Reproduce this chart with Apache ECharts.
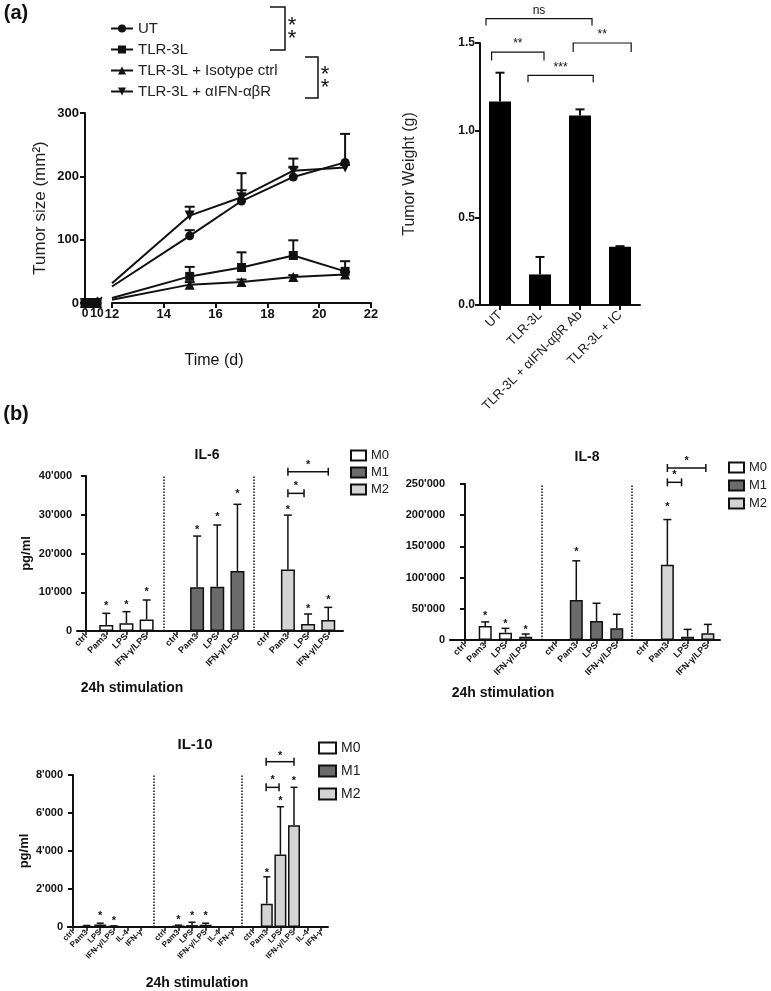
<!DOCTYPE html>
<html>
<head>
<meta charset="utf-8">
<script src="https://cdn.jsdelivr.net/npm/echarts@6/dist/echarts.min.js"></script>
<style>
  html, body { margin: 0; background: #fff; }
  #chart { width: 771px; height: 991px; }
</style>
</head>
<body>
<div id="chart"></div>
<script>
// ---- (a) tumour growth, broken x axis ----
const earlyDays = [0, 5, 10];
const earlyZero = [0, 0, 0];
const days = [12, 15, 17, 19, 21];
const utSize = [26, 106, 161, 199, 222];
const utTop = [26, 115, 178, 214, 267];
const tlrSize = [8, 42, 56, 75, 50];
const tlrTop = [8, 57, 80, 99, 66];
const isoSize = [5, 29, 33, 41, 45];
const isoTop = [5, 33, 37, 44, 49];
const ifnSize = [31, 138, 167, 209, 214];
const ifnTop = [31, 152, 205, 228, 218];

// ---- (a) tumour weight ----
const weightCats = ['UT', 'TLR-3L', 'TLR-3L + αIFN-αβR Ab', 'TLR-3L + IC'];
const weightVals = [1.165, 0.175, 1.085, 0.333];
const weightTop = [1.33, 0.275, 1.12, 0.337];
// [from, to, bar y, foot y]
const weightBrackets = [[-0.35, 2.3, 1.64, 1.6], [-0.21, 1.1, 1.448, 1.4], [0.7, 2.33, 1.315, 1.275], [1.83, 3.28, 1.5, 1.448]];
const weightBracketText = ['ns', '**', '***', '**'];

// ---- (b) cytokines ----
const stimLabels4 = ['ctrl', 'Pam3', 'LPS', 'IFN-γ/LPS'];
const stimLabels6 = ['ctrl', 'Pam3', 'LPS', 'IFN-γ/LPS', 'IL-4', 'IFN-γ'];
const pos4 = [[0, 1, 2, 3], [4.5, 5.5, 6.5, 7.5], [9, 10, 11, 12]];
const pos6 = [[0, 1, 2, 3, 4, 5], [6.75, 7.75, 8.75, 9.75, 10.75, 11.75], [13.25, 14.25, 15.25, 16.25, 17.25, 18.25]];

const il6M0 = [0, 1550, 1980, 3000];
const il6M0Top = [0, 4560, 4990, 8000];
const il6M0Star = [null, 7140, 7400, 10750];
const il6M1 = [0, 11270, 11440, 15480];
const il6M1Top = [0, 24500, 27350, 32690];
const il6M1Star = [null, 26750, 30190, 36120];
const il6M2 = [0, 15900, 1800, 2840];
const il6M2Top = [0, 29900, 4390, 6100];
const il6M2Star = [null, 32080, 6450, 8860];
const il6Brackets = [[10, 10.8, 35520, 38100], [10, 12, 41100, 43700]];

const il8M0 = [0, 22500, 11800, 5400];
const il8M0Top = [0, 29000, 18700, 9600];
const il8M0Star = [null, 42800, 31000, 20300];
const il8M1 = [0, 64200, 30500, 18700];
const il8M1Top = [0, 126900, 58900, 41200];
const il8M1Star = [null, 145600, null, null];
const il8M2 = [1000, 120400, 5400, 10700];
const il8M2Top = [1000, 193000, 17000, 25000];
const il8M2Star = [null, 217900, null, null];
const il8Brackets = [[10, 10.7, 252700, 268700], [10, 11.9, 275700, 291700]];

const il10M0 = [0, 60, 130, 40, 0, 0];
const il10M0Top = [0, 80, 200, 60, 0, 0];
const il10M0Star = [null, null, 750, 460, null, null];
const il10M1 = [0, 80, 100, 120, 0, 0];
const il10M1Top = [0, 100, 250, 200, 0, 0];
const il10M1Star = [null, 540, 720, 720, null, null];
const il10M2 = [30, 1230, 3815, 5360, 30, 20];
const il10M2Top = [30, 2640, 6330, 7350, 30, 20];
const il10M2Star = [null, 3020, 6770, 7820, null, null];
const il10Brackets = [[14.2, 15.15, 7350, 7910], [14.2, 16.25, 8700, 9180]];

const F = '"Liberation Sans", Arial, Helvetica, sans-serif';
const INK = '#111';
const groupColors = { M0: '#ffffff', M1: '#6b6b6b', M2: '#d4d4d4' };

const chart = echarts.init(document.getElementById('chart'));

const grid = [];
const xAxis = [];
const yAxis = [];
const series = [];
const legend = [];

function errBars(ax, pts, capW, lw) {
  return {
    type: 'custom', xAxisIndex: ax, yAxisIndex: ax, silent: true, clip: false, z: 3,
    data: pts,
    renderItem(params, api) {
      const v = api.value(1), top = api.value(2);
      if (!(top > v)) return { type: 'group', children: [] };
      const b = api.coord([api.value(0), v]);
      const t = api.coord([api.value(0), top]);
      const st = { stroke: INK, lineWidth: lw };
      return { type: 'group', children: [
        { type: 'line', shape: { x1: b[0], y1: b[1], x2: t[0], y2: t[1] }, style: st },
        { type: 'line', shape: { x1: t[0] - capW / 2, y1: t[1], x2: t[0] + capW / 2, y2: t[1] }, style: st }
      ] };
    }
  };
}

function textEl(x, y, text, size, weight, va) {
  return {
    type: 'text', x, y,
    style: { text, fill: INK, fontSize: size, fontWeight: weight, fontFamily: F,
      align: 'center', verticalAlign: va, textAlign: 'center', textVerticalAlign: va }
  };
}

// ---------- line chart, two segments ----------
grid.push({ left: 85, top: 113, width: 12, height: 190 });
grid.push({ left: 112, top: 113, width: 259, height: 190 });
const axisLine2 = { show: true, lineStyle: { color: INK, width: 2 } };
const tick = { show: true, length: 5, lineStyle: { color: INK, width: 2 } };
const boldLab = (s) => ({ fontSize: s, fontWeight: 'bold', fontFamily: F, color: INK,
  showMinLabel: true, showMaxLabel: true, hideOverlap: false });

xAxis.push({ gridIndex: 0, type: 'value', min: 0, max: 10, interval: 5, axisLine: axisLine2, axisTick: tick,
  splitLine: { show: false }, axisLabel: Object.assign(boldLab(12), { margin: 5 }) });
xAxis.push({ gridIndex: 1, type: 'value', min: 12, max: 22, interval: 2, axisLine: axisLine2, axisTick: tick,
  splitLine: { show: false }, axisLabel: Object.assign(boldLab(13), { margin: 5 }) });
yAxis.push({ gridIndex: 0, type: 'value', min: 0, max: 300, interval: 100, axisLine: axisLine2, axisTick: tick,
  splitLine: { show: false }, axisLabel: Object.assign(boldLab(13), { margin: 6 }),
  name: 'Tumor size (mm²)', nameLocation: 'middle', nameGap: 36,
  nameTextStyle: { fontSize: 17, fontFamily: F, color: '#222' } });
yAxis.push({ gridIndex: 1, type: 'value', min: 0, max: 300, show: false });

const lineGroups = [
  { name: 'UT', symbol: 'circle', size: 9, rot: 0, vals: utSize, tops: utTop },
  { name: 'TLR-3L', symbol: 'rect', size: 9, rot: 0, vals: tlrSize, tops: tlrTop },
  { name: 'TLR-3L + Isotype ctrl', symbol: 'triangle', size: 10, rot: 0, vals: isoSize, tops: isoTop },
  { name: 'TLR-3L + αIFN-αβR', symbol: 'triangle', size: 10, rot: 180, vals: ifnSize, tops: ifnTop }
];
lineGroups.forEach((g) => {
  const common = { type: 'line', name: g.name, symbol: g.symbol, symbolSize: g.size, symbolRotate: g.rot,
    showAllSymbol: true, lineStyle: { color: INK, width: 2 }, itemStyle: { color: INK }, z: 4 };
  series.push(Object.assign({}, common, { xAxisIndex: 0, yAxisIndex: 0,
    data: earlyDays.map((d, i) => [d, earlyZero[i]]) }));
  series.push(Object.assign({}, common, { xAxisIndex: 1, yAxisIndex: 1,
    data: days.map((d, i) => (i === 0 ? { value: [d, g.vals[i]], symbol: 'none' } : [d, g.vals[i]])) }));
  series.push(errBars(1, days.slice(1).map((d, i) => [d, g.vals[i + 1], g.tops[i + 1]]), 10, 2));
});
legend.push({ data: lineGroups.map((g) => g.name), orient: 'vertical', left: 105, top: 16,
  itemWidth: 22, itemHeight: 10, itemGap: 6, selectedMode: false,
  textStyle: { fontSize: 15, fontFamily: F, color: '#222' } });

// ---------- tumour weight bars ----------
grid.push({ left: 480, top: 43, width: 160, height: 262 });
xAxis.push({ gridIndex: 2, type: 'category', data: weightCats, axisLine: axisLine2,
  axisTick: { show: true, alignWithLabel: true, length: 5, lineStyle: { color: INK, width: 2 } },
  axisLabel: { rotate: 45, interval: 0, fontSize: 13, fontFamily: F, color: '#222', margin: 8 } });
yAxis.push({ gridIndex: 2, type: 'value', min: 0, max: 1.5, interval: 0.5, axisLine: axisLine2, axisTick: tick,
  splitLine: { show: false },
  axisLabel: Object.assign(boldLab(12), { margin: 5, formatter: (v) => v.toFixed(1) }),
  name: 'Tumor Weight (g)', nameLocation: 'middle', nameGap: 62,
  nameTextStyle: { fontSize: 16, fontFamily: F, color: '#222' } });
series.push({ type: 'bar', xAxisIndex: 2, yAxisIndex: 2, data: weightVals, barWidth: 22,
  itemStyle: { color: '#000' } });
series.push(errBars(2, weightVals.map((v, i) => [i, v, weightTop[i]]), 9, 2));
series.push({
  type: 'custom', xAxisIndex: 2, yAxisIndex: 2, silent: true, clip: false,
  data: weightBrackets,
  renderItem(params, api) {
    const c0 = api.coord([0, 0]), c1 = api.coord([1, 0]);
    const band = c1[0] - c0[0];
    const px = (x) => c0[0] + x * band;
    const x1 = px(api.value(0)), x2 = px(api.value(1));
    const yh = api.coord([0, api.value(2)])[1], yd = api.coord([0, api.value(3)])[1];
    return { type: 'group', children: [
      { type: 'polyline', shape: { points: [[x1, yd], [x1, yh], [x2, yh], [x2, yd]] },
        style: { stroke: INK, lineWidth: 1.2, fill: null } },
      textEl((x1 + x2) / 2, yh - 2, weightBracketText[params.dataIndex], 12, 'normal', 'bottom')
    ] };
  }
});

// ---------- cytokine panels ----------
function fmtK(v) { return v === 0 ? '0' : (v / 1000) + "'000"; }

function ilPanel(ax, p) {
  const flat = p.pos.flat();
  grid.push(p.grid);
  xAxis.push({ gridIndex: ax, type: 'value', min: p.xMin, max: p.xMax, axisLine: axisLine2,
    splitLine: { show: false },
    axisTick: { show: true, customValues: flat, length: 4, lineStyle: { color: INK, width: 1.5 } },
    axisLabel: Object.assign(boldLab(p.labSize), { customValues: flat, rotate: 45, margin: 4,
      formatter: (v) => { const i = flat.indexOf(v); return i < 0 ? '' : p.labels[i % p.labels.length]; } }) });
  yAxis.push({ gridIndex: ax, type: 'value', min: 0, max: p.yMax, interval: p.yInt, axisLine: axisLine2,
    axisTick: tick, splitLine: { show: false },
    axisLabel: Object.assign(boldLab(11), { margin: 5, formatter: fmtK }),
    name: p.yName, nameLocation: 'middle', nameGap: p.nameGap,
    nameTextStyle: { fontSize: 13, fontWeight: 'bold', fontFamily: F, color: INK } });
  p.groups.forEach((g, gi) => {
    const s = { type: 'bar', name: g.name, xAxisIndex: ax, yAxisIndex: ax, barWidth: p.bw, barGap: '-100%',
      data: p.pos[gi].map((x, i) => [x, g.vals[i]]),
      itemStyle: { color: groupColors[g.name], borderColor: INK, borderWidth: 1.5 }, z: 2 };
    if (gi === 0) {
      s.markLine = { silent: true, symbol: ['none', 'none'], label: { show: false },
        lineStyle: { type: 'dotted', color: INK, width: 1.5 }, data: p.seps.map((x) => ({ xAxis: x })) };
    }
    series.push(s);
    series.push(errBars(ax, p.pos[gi].map((x, i) => [x, g.vals[i], g.tops[i]]), p.cap, 1.5));
    const stars = [];
    g.stars.forEach((y, i) => { if (y !== null) stars.push([p.pos[gi][i], y]); });
    series.push({ type: 'custom', xAxisIndex: ax, yAxisIndex: ax, silent: true, clip: false, data: stars,
      renderItem(params, api) {
        const c = api.coord([api.value(0), api.value(1)]);
        return textEl(c[0], c[1] + 3, '*', 11, 'bold', 'middle');
      } });
  });
  series.push({ type: 'custom', xAxisIndex: ax, yAxisIndex: ax, silent: true, clip: false, data: p.brackets,
    renderItem(params, api) {
      const a = api.coord([api.value(0), api.value(2)]);
      const b = api.coord([api.value(1), api.value(2)]);
      const s = api.coord([(api.value(0) + api.value(1)) / 2, api.value(3)]);
      const st = { stroke: INK, lineWidth: 1.5 };
      return { type: 'group', children: [
        { type: 'line', shape: { x1: a[0], y1: a[1], x2: b[0], y2: b[1] }, style: st },
        { type: 'line', shape: { x1: a[0], y1: a[1] - 4, x2: a[0], y2: a[1] + 4 }, style: st },
        { type: 'line', shape: { x1: b[0], y1: b[1] - 4, x2: b[0], y2: b[1] + 4 }, style: st },
        textEl(s[0], s[1] + 3, '*', 11, 'bold', 'middle')
      ] };
    } });
  legend.push({ data: ['M0', 'M1', 'M2'], orient: 'vertical', left: p.leg[0], top: p.leg[1],
    icon: 'rect', itemWidth: p.leg[2], itemHeight: p.leg[3], itemGap: p.leg[4], selectedMode: false,
    textStyle: { fontSize: p.leg[5], fontFamily: F, color: '#222' } });
}

ilPanel(3, {
  grid: { left: 77, top: 476, width: 266, height: 155 }, xMin: -0.45, xMax: 12.73,
  pos: pos4, labels: stimLabels4, labSize: 9, yMax: 40000, yInt: 10000, yName: 'pg/ml', nameGap: 44,
  bw: 14, cap: 8, seps: [3.86, 8.32], brackets: il6Brackets, leg: [345, 444, 15, 10, 4, 13],
  groups: [
    { name: 'M0', vals: il6M0, tops: il6M0Top, stars: il6M0Star },
    { name: 'M1', vals: il6M1, tops: il6M1Top, stars: il6M1Star },
    { name: 'M2', vals: il6M2, tops: il6M2Top, stars: il6M2Star }
  ]
});
ilPanel(4, {
  grid: { left: 450, top: 484, width: 270, height: 156 }, xMin: -0.74, xMax: 12.6,
  pos: pos4, labels: stimLabels4, labSize: 9, yMax: 250000, yInt: 50000, yName: '', nameGap: 44,
  bw: 13, cap: 8, seps: [3.8, 8.26], brackets: il8Brackets, leg: [723, 456, 15, 10, 5, 13],
  groups: [
    { name: 'M0', vals: il8M0, tops: il8M0Top, stars: il8M0Star },
    { name: 'M1', vals: il8M1, tops: il8M1Top, stars: il8M1Star },
    { name: 'M2', vals: il8M2, tops: il8M2Top, stars: il8M2Star }
  ]
});
ilPanel(5, {
  grid: { left: 68, top: 775, width: 260, height: 152 }, xMin: -0.37, xMax: 18.75,
  pos: pos6, labels: stimLabels6, labSize: 8, yMax: 8000, yInt: 2000, yName: 'pg/ml', nameGap: 37,
  bw: 12, cap: 7, seps: [5.96, 12.43], brackets: il10Brackets, leg: [313, 736, 17, 11, 9, 14],
  groups: [
    { name: 'M0', vals: il10M0, tops: il10M0Top, stars: il10M0Star },
    { name: 'M1', vals: il10M1, tops: il10M1Top, stars: il10M1Star },
    { name: 'M2', vals: il10M2, tops: il10M2Top, stars: il10M2Star }
  ]
});

// ---------- free text and legend brackets ----------
const bracketStyle = { stroke: INK, lineWidth: 1.5, fill: null };
const graphic = [
  textEl(16, 13, '(a)', 20, 'bold', 'middle'),
  textEl(16, 414, '(b)', 20, 'bold', 'middle'),
  textEl(214, 361, 'Time (d)', 16, 'normal', 'middle'),
  textEl(207, 455, 'IL-6', 14, 'bold', 'middle'),
  textEl(587, 457, 'IL-8', 14, 'bold', 'middle'),
  textEl(195, 745, 'IL-10', 15, 'bold', 'middle'),
  textEl(132, 688, '24h stimulation', 14, 'bold', 'middle'),
  textEl(503, 693, '24h stimulation', 14, 'bold', 'middle'),
  textEl(197, 983, '24h stimulation', 14, 'bold', 'middle'),
  { type: 'polyline', shape: { points: [[270, 7], [285, 7], [285, 50], [270, 50]] }, style: bracketStyle },
  textEl(292, 26, '*', 22, 'normal', 'middle'),
  textEl(292, 39, '*', 22, 'normal', 'middle'),
  { type: 'polyline', shape: { points: [[305, 57], [318, 57], [318, 98], [305, 98]] }, style: bracketStyle },
  textEl(325, 75, '*', 22, 'normal', 'middle'),
  textEl(325, 88, '*', 22, 'normal', 'middle'),
  { type: 'line', shape: { x1: 92, y1: 305, x2: 98, y2: 297 }, style: { stroke: INK, lineWidth: 1.5 } },
  { type: 'line', shape: { x1: 96, y1: 305, x2: 102, y2: 297 }, style: { stroke: INK, lineWidth: 1.5 } }
];

chart.setOption({
  animation: false,
  backgroundColor: '#fff',
  grid, xAxis, yAxis, series, legend, graphic
});
</script>
</body>
</html>
